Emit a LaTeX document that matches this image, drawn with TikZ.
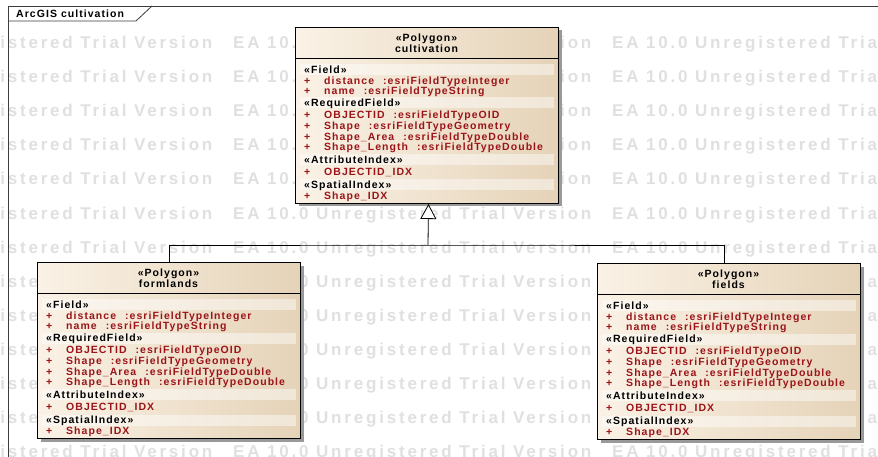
\documentclass[tikz,border=0pt]{standalone}
\usepackage{fontspec}
\setmainfont{Liberation Sans}
\newfontfamily\eafont[LetterSpace=10]{Liberation Sans}
\newfontfamily\wmfont[LetterSpace=16.5]{Liberation Sans}
\usetikzlibrary{arrows.meta,shadows}
\definecolor{eacream}{RGB}{250,242,230}
\definecolor{eatan}{RGB}{229,211,184}
\definecolor{eared}{RGB}{155,20,25}
\definecolor{eaframe}{RGB}{60,60,60}
\definecolor{eawater}{RGB}{224,224,224}

\tikzset{
  classbox/.style={draw=black, line width=1pt, left color=eacream, right color=eatan,
    anchor=north west, minimum width=263pt, minimum height=176pt, inner sep=0pt,
    drop shadow={shadow xshift=3pt, shadow yshift=-3pt, fill=black!40, opacity=1}},
  band/.style={fill=white, fill opacity=0.45},
  headtxt/.style={font=\eafont\bfseries\fontsize{10.5}{12}\selectfont, inner sep=0pt,
    text height=7.5pt, text depth=0pt},
  stereo/.style={headtxt, anchor=west},
  attr/.style={stereo, text=eared},
  genline/.style={line width=0.8pt, draw=black},
  watermark/.style={font=\wmfont\bfseries\fontsize{17}{19}\selectfont, text=eawater,
    anchor=west, inner sep=0pt, text height=12pt, text depth=0pt},
}

% attribute list shared by the three feature classes
\newcommand{\fcbody}[2]{%
  \begin{scope}[shift={(#1.north west)}]
    \node[headtxt] (#1-ster) at (131.5,11) {«Polygon»};
    \node[headtxt] (#1-name) at (131.5,21.5) {#2};
    \draw[line width=0.8pt] (0,31) -- (263,31);
    \foreach \y/\s [count=\i] in {42.5/Field,76/RequiredField,132.5/AttributeIndex,158/SpatialIndex}{
      \fill[band] (5,\y-5.5) rectangle (259,\y+5.5);
      \node[stereo] (#1-st\i) at (9,\y) {«\s»};
    }
    \foreach \y/\a/\b [count=\i] in {53.5/distance/Integer,64/name/String,87.5/OBJECTID/OID,
        98.5/Shape/Geometry,109.5/Shape\_Area/Double,120/Shape\_Length/Double}{
      \node[attr] (#1-p\i) at (9,\y) {+};
      \node[attr] (#1-a\i) at (29,\y) {\a\hspace{9pt}:esriFieldType\b};
    }
    \foreach \y/\a [count=\i] in {144.5/OBJECTID\_IDX,169/Shape\_IDX}{
      \node[attr] (#1-px\i) at (9,\y) {+};
      \node[attr] (#1-ix\i) at (29,\y) {\a};
    }
  \end{scope}}

\begin{document}
\begin{tikzpicture}[x=1pt,y=-1pt]
  \useasboundingbox (0,0) rectangle (878,457);
  \fill[white] (0,0) rectangle (878,457);

  % trial watermark rows
  \begin{scope}
    \clip (0,0) rectangle (878,457);
    \foreach \r in {0,...,12}
      \foreach \c in {-146,233,612}
        \node[watermark] (wm-\r-\c) at (\c,43+34*\r) {EA 10.0 Unregistered Trial Version};
  \end{scope}

  % diagram frame
  \draw[eaframe, line width=0.8pt] (8,457) -- (8,6) -- (878,6);
  \draw[eaframe, line width=0.8pt] (8,21) -- (136,21) -- (152,6);
  \node[stereo] (title) at (16,14) {ArcGIS cultivation};

  % classes
  \node[classbox] (cultivation) at (295,27) {};
  \node[classbox] (formlands) at (37,262) {};
  \node[classbox] (fields) at (597,263) {};
  \fcbody{cultivation}{cultivation}
  \fcbody{formlands}{formlands}
  \fcbody{fields}{fields}

  % generalization
  \coordinate (split) at (428,245);
  \draw[genline] (formlands.north) |- (split) -| ([xshift=-5pt]fields.north);
  \draw[genline, -{Triangle[open, fill=white, length=15pt, width=16pt]}]
    (split) -- ([xshift=1.5pt]cultivation.south);
\end{tikzpicture}
\end{document}
